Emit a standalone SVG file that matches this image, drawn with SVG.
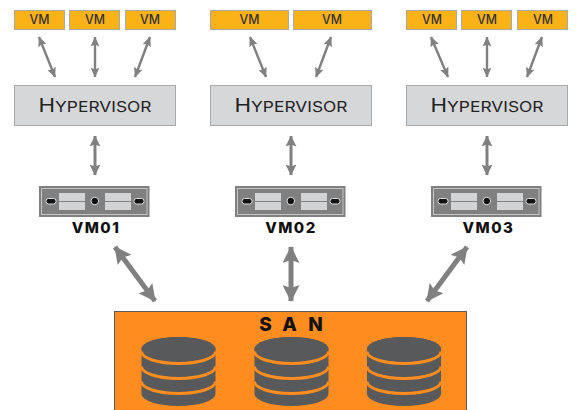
<svg xmlns="http://www.w3.org/2000/svg" width="576" height="410" viewBox="0 0 576 410">
<style>
text{font-family:"Inter","Noto Sans",sans-serif;text-anchor:middle}
.vm rect{fill:#fbb216;stroke:#a9a9a9;stroke-width:1}
.vm text{font-size:12.500px;font-weight:500;fill:#333}
.hv rect{fill:#d6d7d9;stroke:#a9a9a9;stroke-width:1}
.hv text{font-size:14px;font-weight:400;fill:#222}
.hv .c{font-size:18px}
.sv text{font-size:15px;font-weight:800;fill:#111;letter-spacing:1.5px}
.a{stroke:#808080;stroke-width:2.400;marker-start:url(#h1);marker-end:url(#h1);fill:none}
.c2{stroke:#808080;stroke-width:3;marker-start:url(#h3);marker-end:url(#h3);fill:none}
.b{stroke:#808080;stroke-width:5;marker-start:url(#h2);marker-end:url(#h2);fill:none}
.body{fill:#58595b}
.band{fill:none;stroke:#ff8c1e;stroke-width:3}
</style>
<defs>
<marker id="h1" viewBox="0 0 10 9" refX="9.500" refY="4.500" markerWidth="10" markerHeight="9" markerUnits="userSpaceOnUse" orient="auto-start-reverse"><path d="M0 0L10 4.500L0 9L2 4.500Z" fill="#808080"/></marker>
<marker id="h3" viewBox="0 0 11 11" refX="10.500" refY="5.500" markerWidth="11" markerHeight="11" markerUnits="userSpaceOnUse" orient="auto-start-reverse"><path d="M0 0L11 5.500L0 11L2 5.500Z" fill="#808080"/></marker>
<marker id="h2" viewBox="0 0 17 17" refX="16" refY="8.500" markerWidth="17" markerHeight="17" markerUnits="userSpaceOnUse" orient="auto-start-reverse"><path d="M0 0L17 8.500L0 17L3 8.500Z" fill="#808080"/></marker>
<g id="srv">
<rect x="0" y="0" width="110.500" height="31" fill="#808080"/>
<rect x="2.500" y="2.500" width="105.500" height="26" fill="none" stroke="#c4c4c4" stroke-width="1"/>
<rect x="7" y="12.500" width="10" height="5.500" rx="2.500" fill="#111" stroke="#ddd" stroke-width="1"/>
<rect x="20" y="7" width="26" height="17" fill="#d2d3d5"/>
<rect x="66" y="7" width="26" height="17" fill="#d2d3d5"/>
<path d="M20 15.500H46M66 15.500H92" stroke="#808080" stroke-width="1"/>
<circle cx="55.800" cy="15" r="3.800" fill="#111" stroke="#ddd" stroke-width="1"/>
<rect x="95" y="12.500" width="10" height="5.500" rx="2.500" fill="#111" stroke="#ddd" stroke-width="1"/>
</g>
<g id="db">
<path class="body" d="M0 0v45a37 12 0 0 0 74 0V0a37 12 0 0 0-74 0z"/>
<ellipse class="body" cx="37" cy="0" rx="37" ry="12"/>
<path class="band" d="M0 2.500a37 12 0 0 0 74 0M0 17.500a37 12 0 0 0 74 0M0 32.500a37 12 0 0 0 74 0"/>
</g>
</defs>
<g id="connectors">
<path class="a" d="M39 37L55 77"/><path class="a" d="M95 37V77"/><path class="a" d="M150 37L135 77"/>
<path class="a" d="M250 37L266 77"/><path class="a" d="M331 37L316 77"/>
<path class="a" d="M431 37L448 77"/><path class="a" d="M487 37V77"/><path class="a" d="M542 37L527 77"/>
<path class="c2" d="M95 136V175"/><path class="c2" d="M291 136V175"/><path class="c2" d="M487 136V175"/>
<path class="b" d="M115 247L155 301"/><path class="b" d="M291 247V301"/><path class="b" d="M467 247L427 301"/>
</g>
<g id="vm-1-1" class="vm"><rect x="14.500" y="10.500" width="50" height="19"/><text x="39.500" y="24" textLength="20" lengthAdjust="spacingAndGlyphs">VM</text></g>
<g id="vm-1-2" class="vm"><rect x="69.500" y="10.500" width="50" height="19"/><text x="95" y="24" textLength="20" lengthAdjust="spacingAndGlyphs">VM</text></g>
<g id="vm-1-3" class="vm"><rect x="125.500" y="10.500" width="50" height="19"/><text x="150" y="24" textLength="20" lengthAdjust="spacingAndGlyphs">VM</text></g>
<g id="vm-2-1" class="vm"><rect x="210.500" y="10.500" width="78" height="19"/><text x="249.500" y="24" textLength="20" lengthAdjust="spacingAndGlyphs">VM</text></g>
<g id="vm-2-2" class="vm"><rect x="293.500" y="10.500" width="78" height="19"/><text x="332" y="24" textLength="20" lengthAdjust="spacingAndGlyphs">VM</text></g>
<g id="vm-3-1" class="vm"><rect x="406.500" y="10.500" width="50" height="19"/><text x="432" y="24" textLength="20" lengthAdjust="spacingAndGlyphs">VM</text></g>
<g id="vm-3-2" class="vm"><rect x="461.500" y="10.500" width="50" height="19"/><text x="487" y="24" textLength="20" lengthAdjust="spacingAndGlyphs">VM</text></g>
<g id="vm-3-3" class="vm"><rect x="517.500" y="10.500" width="50" height="19"/><text x="543" y="24" textLength="20" lengthAdjust="spacingAndGlyphs">VM</text></g>
<g id="hv-1" class="hv"><rect x="14.500" y="85.500" width="161" height="40"/><text x="95" y="112" textLength="113" lengthAdjust="spacingAndGlyphs"><tspan class="c">H</tspan>YPERVISOR</text></g>
<g id="hv-2" class="hv"><rect x="210.500" y="85.500" width="161" height="40"/><text x="291" y="112" textLength="113" lengthAdjust="spacingAndGlyphs"><tspan class="c">H</tspan>YPERVISOR</text></g>
<g id="hv-3" class="hv"><rect x="406.500" y="85.500" width="161" height="40"/><text x="487" y="112" textLength="113" lengthAdjust="spacingAndGlyphs"><tspan class="c">H</tspan>YPERVISOR</text></g>
<g id="server-1" class="sv"><use href="#srv" x="39" y="186"/><text x="96" y="233.300">VM01</text></g>
<g id="server-2" class="sv"><use href="#srv" x="235" y="186"/><text x="291" y="233.300">VM02</text></g>
<g id="server-3" class="sv"><use href="#srv" x="431" y="186"/><text x="488.500" y="233.300">VM03</text></g>
<g id="san">
<rect x="114.500" y="311.500" width="352" height="100" fill="#ff8c1e" stroke="#5a5a5a" stroke-width="1"/>
<text x="265.500 289.500 315.500" y="330.500" font-size="19" font-weight="800" fill="#111">SAN</text>
<use id="db-1" href="#db" x="141.500" y="349"/>
<use id="db-2" href="#db" x="254.500" y="349"/>
<use id="db-3" href="#db" x="367" y="349"/>
</g>
</svg>
